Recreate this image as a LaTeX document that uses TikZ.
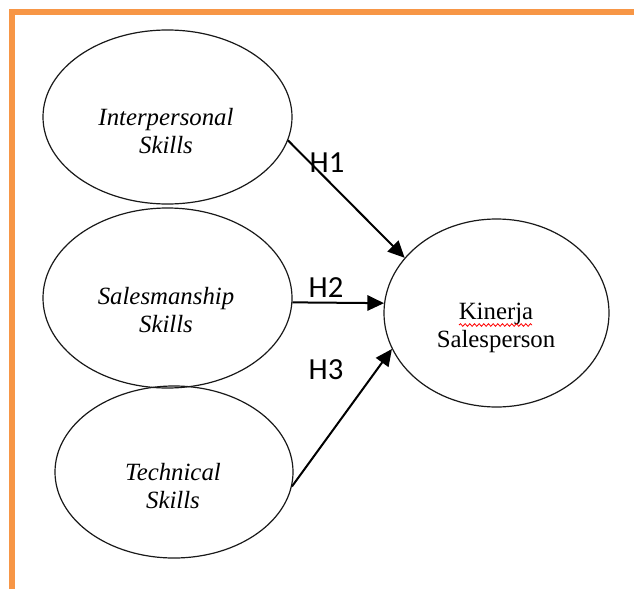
\documentclass[tikz,border=0pt]{standalone}
\usepackage{fontspec}
\setmainfont{Liberation Serif}
\newfontfamily\hfont{Carlito}
\usetikzlibrary{shapes.geometric,arrows.meta,calc,decorations.pathmorphing}
\definecolor{frameorange}{HTML}{F79646}
\begin{document}
\begin{tikzpicture}[x=0.75pt,y=-0.75pt,
  oval/.style={draw=black!90,ellipse,line width=0.9pt,inner sep=0pt},
  ovaltext/.style={inner sep=0pt,align=center,font=\fontsize{18.6pt}{21pt}\selectfont},
  hyp/.style={inner sep=0pt,anchor=base,font=\hfont\fontsize{23pt}{27pt}\selectfont},
  link/.style={line width=1.5pt,-{Triangle[length=12.5pt,width=11.5pt]}}]
\useasboundingbox (0,0) rectangle (634,588);
\fill[white] (0,0) rectangle (634,588);
\draw[frameorange,line width=4.5pt,line join=miter] (11.5,600) -- (11.5,12) -- (640,12);

\node[oval,minimum width=249*0.75pt,minimum height=174*0.75pt] (e1) at (167.5,117) {};
\node[oval,minimum width=249*0.75pt,minimum height=180*0.75pt] (e2) at (167.5,298) {};
\node[oval,minimum width=238*0.75pt,minimum height=172*0.75pt] (e3) at (174,472) {};
\node[oval,minimum width=225*0.75pt,minimum height=188*0.75pt] (k) at (496.5,313) {};

\node[ovaltext] (t1) at (166,131) {\itshape Interpersonal\\\itshape Skills};
\node[ovaltext] (t2) at (166,310) {\itshape Salesmanship\\\itshape Skills};
\node[ovaltext] (t3) at (173,486.5) {\itshape Technical\\\itshape Skills};
\node[ovaltext] (tk) at (496,328) {Kinerja\\Salesperson};
\draw[red,line width=0.6pt,decorate,decoration={snake,amplitude=1pt,segment length=3.5pt}] (459,325) -- (532,325);

\draw[link] (e1.-11.1) -- (k.149.5);
\draw[link] (e2.-2.3) -- (k.175);
\draw[link] (e3.-7.2) -- (k.199.3);

\node[hyp] (h1) at (327,172) {H1};
\node[hyp] (h2) at (326,297) {H2};
\node[hyp] (h3) at (326,379) {H3};
\end{tikzpicture}
\end{document}
